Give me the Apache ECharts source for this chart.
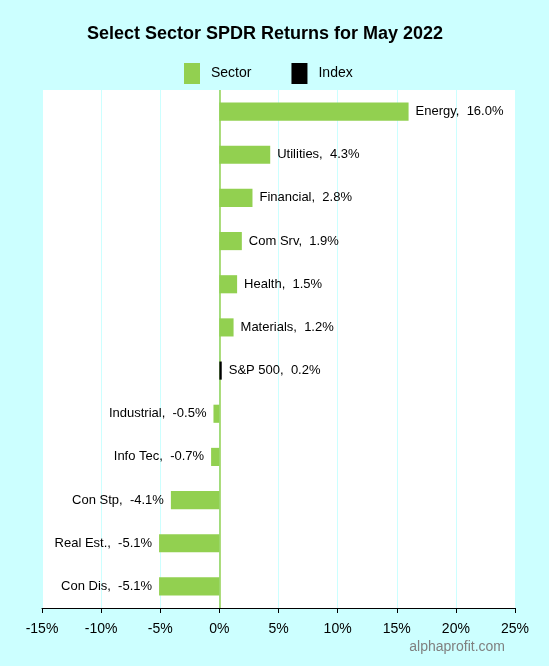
<!DOCTYPE html>
<html><head><meta charset="utf-8">
<script src="https://cdn.jsdelivr.net/npm/echarts@6/dist/echarts.min.js"></script>
<style>html,body{margin:0;padding:0;background:#ccffff;}#c{width:549px;height:666px;}</style>
</head><body><div id="c"></div>
<script>
var categories = ["Energy","Utilities","Financial","Com Srv","Health","Materials","S&P 500","Industrial","Info Tec","Con Stp","Real Est.","Con Dis"];
var returns = [16.0,4.3,2.8,1.9,1.5,1.2,0.2,-0.5,-0.7,-4.1,-5.1,-5.1];
var isIndex = [false,false,false,false,false,false,true,false,false,false,false,false];
var xTicks = [-15,-10,-5,0,5,10,15,20,25];

var sectorData = returns.map(function(v,i){return isIndex[i]?'-':v;});
var indexData = returns.map(function(v,i){return isIndex[i]?v:'-';});

function lbl(p){return categories[p.dataIndex]+',  '+returns[p.dataIndex].toFixed(1)+'%';}
function labelCfg(){
  return {show:true, formatter:lbl, color:'#000', fontSize:13, fontFamily:'Arial, Liberation Sans', distance:7};
}
function items(arr,color){
  return arr.map(function(v){
    if(v==='-') return '-';
    return {value:v, itemStyle:{color:color}, label:Object.assign(labelCfg(),{position: v>=0?'right':'left'})};
  });
}
var chart = echarts.init(document.getElementById('c'));
chart.setOption({
  backgroundColor:'#ccffff',
  animation:false,
  title:{text:'Select Sector SPDR Returns for May 2022', left:82, top:20,
    textStyle:{fontSize:18, fontWeight:'bold', color:'#000', fontFamily:'Arial, Liberation Sans'}},
  legend:{top:58, left:179, itemWidth:16, itemHeight:21, itemGap:40, icon:'rect',
    textStyle:{fontSize:14, color:'#000', fontFamily:'Arial, Liberation Sans', padding:[0,0,0,6]},
    data:['Sector','Index']},
  grid:{left:42, right:34, top:90, bottom:58, backgroundColor:'#fff', show:true, borderWidth:0},
  xAxis:{type:'value', min:xTicks[0], max:xTicks[xTicks.length-1], interval:5,
    axisLine:{show:true, onZero:false, lineStyle:{color:'#000'}},
    axisTick:{show:true, length:5, lineStyle:{color:'#000'}},
    axisLabel:{formatter:function(v){return v+'%';}, color:'#000', fontSize:14, fontFamily:'Arial, Liberation Sans', margin:14},
    splitLine:{show:true, lineStyle:{color:'#ccffff'}}},
  yAxis:{type:'category', data:categories, inverse:true,
    axisLine:{show:false},
    axisTick:{show:false}, axisLabel:{show:false}, splitLine:{show:false}},
  series:[
    {name:'zero', type:'line', data:[], z:1,
     markLine:{silent:true, z:1, symbol:'none', label:{show:false}, lineStyle:{color:'#92d050', width:1.5, type:'solid'}, data:[{xAxis:0}]}},
    {name:'Sector', type:'bar', stack:'a', z:4, barWidth:'42%', itemStyle:{color:'#92d050'}, data:items(sectorData,'#92d050')},
    {name:'Index', type:'bar', stack:'a', z:4, barWidth:'42%', itemStyle:{color:'#000'}, data:items(indexData,'#000')}
  ],
  graphic:[{type:'text', right:44, top:640, style:{text:'alphaprofit.com', fill:'#808080', fontSize:14, fontFamily:'Arial, Liberation Sans'}}]
});
</script></body></html>
